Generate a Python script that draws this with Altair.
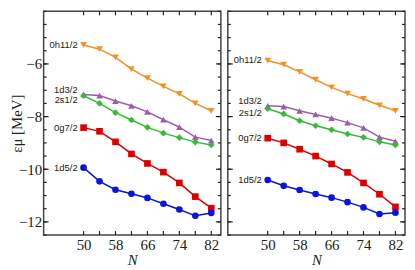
import altair as alt
import pandas as pd

N = [50, 54, 58, 62, 66, 70, 74, 78, 82]
series = ["0h11/2", "1d3/2", "2s1/2", "0g7/2", "1d5/2"]
colors = ["#f7901e", "#9e5bae", "#33bb33", "#dd0000", "#0a14dc"]
shapes = ["triangle-down", "triangle-up", "diamond", "square", "circle"]

# left panel
L_0h11 = [-5.28, -5.44, -5.75, -6.20, -6.54, -6.85, -7.14, -7.50, -7.78]
L_1d3 = [-7.16, -7.20, -7.41, -7.59, -7.82, -8.12, -8.40, -8.78, -8.91]
L_2s1 = [-7.21, -7.50, -7.85, -8.13, -8.41, -8.63, -8.80, -8.97, -9.08]
L_0g7 = [-8.42, -8.56, -8.96, -9.42, -9.78, -10.11, -10.52, -11.04, -11.48]
L_1d5 = [-9.94, -10.46, -10.78, -10.93, -11.09, -11.31, -11.53, -11.77, -11.66]

# right panel
R_0h11 = [-5.87, -6.03, -6.30, -6.60, -6.89, -7.13, -7.33, -7.57, -7.78]
R_1d3 = [-7.59, -7.62, -7.78, -7.92, -8.06, -8.23, -8.43, -8.78, -8.94]
R_2s1 = [-7.70, -7.90, -8.16, -8.35, -8.50, -8.66, -8.79, -8.96, -9.08]
R_0g7 = [-8.82, -9.00, -9.24, -9.50, -9.80, -10.12, -10.52, -10.95, -11.43]
R_1d5 = [-10.41, -10.63, -10.79, -10.94, -11.08, -11.25, -11.45, -11.70, -11.65]

x_labels = [50, 58, 66, 74, 82]
x_ticks = [50, 54, 58, 62, 66, 70, 74, 78, 82]
y_labels = [-12, -10, -8, -6]
y_minor = [-12.5 + 0.5 * i for i in range(18)]

W, H = 179, 226


def make_df(vals):
    rows = []
    for s, v in zip(series, vals):
        for n, e in zip(N, v):
            rows.append({"N": n, "E": e, "series": s})
    return pd.DataFrame(rows)


dfL = make_df([L_0h11, L_1d3, L_2s1, L_0g7, L_1d5])
dfR = make_df([R_0h11, R_1d3, R_2s1, R_0g7, R_1d5])
df_xt = pd.DataFrame({"v": x_ticks})
df_ymaj = pd.DataFrame({"v": y_labels})
df_ymin = pd.DataFrame({"v": y_minor})

xs = alt.Scale(domain=[40, 84.4], nice=False, zero=False)
ys = alt.Scale(domain=[-12.5, -4], nice=False, zero=False)
col = alt.Color("series:N", scale=alt.Scale(domain=series, range=colors), legend=None)
shp = alt.Shape("series:N", scale=alt.Scale(domain=series, range=shapes), legend=None)

SERIF = "Liberation Serif"
SANS = "Liberation Sans"
TICK = "#222"


def X(field, **kw):
    return alt.X(field, scale=xs, **kw)


def Y(field, **kw):
    return alt.Y(field, scale=ys, **kw)


def tick_layers(yk):
    out = []
    # y ticks, left and right, major and minor
    for d, size in ((df_ymaj, 5), (df_ymin, 3)):
        out.append(alt.Chart(d).mark_rule(color=TICK, strokeWidth=1.2).encode(
            y=Y("v:Q", **yk), x=alt.value(0), x2=alt.value(size)))
        out.append(alt.Chart(d).mark_rule(color=TICK, strokeWidth=1.2).encode(
            y=Y("v:Q", **yk), x=alt.value(W - size), x2=alt.value(W)))
    # x ticks, bottom and top
    out.append(alt.Chart(df_xt).mark_rule(color=TICK, strokeWidth=1.2).encode(
        x=X("v:Q"), y=alt.value(H - 4), y2=alt.value(H)))
    out.append(alt.Chart(df_xt).mark_rule(color=TICK, strokeWidth=1.2).encode(
        x=X("v:Q"), y=alt.value(0), y2=alt.value(4)))
    return out


def panel(df, show_y):
    base = alt.Chart(df)
    if show_y:
        ylab = alt.Axis(orient="left", values=y_labels, ticks=False, domain=False, grid=False,
                        labelPadding=2, labelFont=SERIF, labelFontSize=15, labelColor="#222",
                        title="εμ [MeV]", titleFont=SERIF, titleFontSize=15,
                        titleFontWeight="normal", titlePadding=-6, titleColor="#222")
        yk = {}
        ykl = {"axis": ylab}
    else:
        yk = {"axis": None}
        ykl = {"axis": None}
    xlab = alt.Axis(orient="bottom", values=x_labels, ticks=False, domain=False, grid=False,
                    labelPadding=3, labelFont=SERIF, labelFontSize=15, labelColor="#222",
                    title="N", titleFont=SERIF, titleFontSize=15, titleFontStyle="italic",
                    titleFontWeight="normal", titlePadding=0, titleColor="#222")

    lines = base.mark_line(strokeWidth=1.5).encode(
        x=X("N:Q", axis=xlab), y=Y("E:Q", **ykl), color=col, detail="series:N")
    points = base.mark_point(filled=True, size=45, opacity=1).encode(
        x=X("N:Q"), y=Y("E:Q", **yk), color=col, shape=shp)
    first = base.transform_filter(alt.datum.N == 50)
    txt_main = first.transform_filter(
        alt.FieldOneOfPredicate(field="series", oneOf=["0h11/2", "0g7/2", "1d5/2"])
    ).mark_text(align="right", baseline="middle", dx=-6, font=SANS, fontSize=9.5, color="#222").encode(
        x=X("N:Q"), y=Y("E:Q", **yk), text="series:N")
    txt_up = first.transform_filter(alt.datum.series == "1d3/2").mark_text(
        align="right", baseline="middle", dx=-6, dy=-4.5, font=SANS, fontSize=9.5, color="#222").encode(
        x=X("N:Q"), y=Y("E:Q", **yk), text="series:N")
    txt_dn = first.transform_filter(alt.datum.series == "2s1/2").mark_text(
        align="right", baseline="middle", dx=-6, dy=4.5, font=SANS, fontSize=9.5, color="#222").encode(
        x=X("N:Q"), y=Y("E:Q", **yk), text="series:N")
    return alt.layer(lines, *tick_layers(yk), points, txt_main, txt_up, txt_dn).properties(width=W, height=H)


chart = alt.hconcat(panel(dfL, True), panel(dfR, False), spacing=3).properties(
    padding={"left": 0, "top": 0, "right": 0, "bottom": 0}
).configure_view(stroke="#444", strokeWidth=1.5)

chart.save("out.html", embed_options={"renderer": "svg", "actions": False})
